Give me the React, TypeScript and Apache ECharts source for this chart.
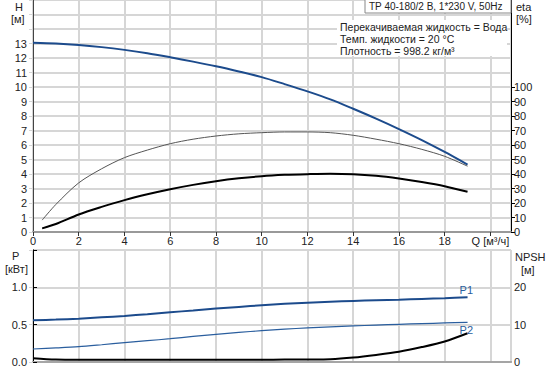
import React, { useEffect, useRef } from "react";
import * as echarts from "echarts";

// Head curve H [м] vs Q [м³/ч]
const qMain = [0, 1, 2, 3, 4, 5, 6, 7, 8, 9, 10, 11, 12, 13, 14, 15, 16, 17, 18, 19];
const headH = [13.05, 13.0, 12.9, 12.75, 12.56, 12.33, 12.05, 11.75, 11.43, 11.07, 10.68, 10.2, 9.7, 9.15, 8.5, 7.82, 7.1, 6.34, 5.52, 4.65];

// Efficiency curves eta [%]
const qEta = [0.4, 1, 2, 3, 4, 5, 6, 7, 8, 9, 10, 11, 12, 13, 14, 15, 16, 17, 18, 19];
const etaThin = [8.2, 19, 33.9, 43.6, 51.3, 56.5, 60.9, 64, 66.2, 67.7, 68.5, 69, 69, 68.5, 66.7, 64, 60.9, 57, 52.2, 45.4];
const etaThick = [2.5, 5.5, 12.1, 17.3, 22, 26, 29.5, 32.5, 35, 37, 38.5, 39.4, 39.9, 40.2, 39.9, 38.8, 36.9, 34.5, 31.6, 27.7];

// Power P1, P2 [кВт]
const powerP1 = [0.558, 0.568, 0.58, 0.598, 0.617, 0.641, 0.666, 0.69, 0.715, 0.738, 0.76, 0.779, 0.795, 0.807, 0.818, 0.827, 0.835, 0.845, 0.854, 0.867];
const powerP2 = [0.174, 0.188, 0.205, 0.231, 0.259, 0.285, 0.312, 0.342, 0.371, 0.396, 0.42, 0.44, 0.456, 0.47, 0.483, 0.494, 0.505, 0.514, 0.523, 0.532];

// NPSH [м]
const npsh = [1.0, 0.65, 0.6, 0.6, 0.6, 0.6, 0.6, 0.6, 0.6, 0.6, 0.62, 0.64, 0.67, 0.75, 1.2, 1.9, 2.75, 4.0, 5.5, 7.7];

// Axis tick values
const hLabelMax = 13;
const etaTicks = [0, 10, 20, 30, 40, 50, 60, 70, 80, 90, 100];
const pLabels = [0, 0.5, 1.0];
const npshLabels = [0, 10, 20];

const titleText = "TP 40-180/2 B, 1*230 V, 50Hz";
const infoLines = [
  "Перекачиваемая жидкость = Вода",
  "Темп. жидкости = 20 °C",
  "Плотность = 998.2 кг/м³",
];

const zip = (xs: number[], ys: number[]) => xs.map((x, i) => [x, ys[i]]);

const FONT = "Liberation Sans, Arial, sans-serif";
const GRID_COLOR = "#d6d6d6";
const TXT = "#222";

export default function App() {
  const ref = useRef<HTMLDivElement>(null);
  useEffect(() => {
    document.body.style.margin = "0";
    if (!ref.current) return;
    const chart = echarts.init(ref.current, null, { renderer: "svg" });
    const splitLine = { show: true, lineStyle: { color: GRID_COLOR, width: 2 } };
    const label = { fontSize: 11, color: TXT, fontFamily: FONT };
    const xCommon = { type: "value", min: 0, max: 20.9, interval: 2 };
    const curve = { smooth: 0.3, showSymbol: false };
    const option: any = {
      animation: false,
      textStyle: { fontFamily: FONT },
      grid: [
        { left: 33, right: 39, top: 0, height: 232 },
        { left: 33, right: 39, top: 250, height: 112 },
      ],
      xAxis: [
        {
          ...xCommon,
          gridIndex: 0,
          axisLine: { show: true, lineStyle: { color: "#999", width: 2 } },
          axisTick: { show: true, length: 4, lineStyle: { color: "#333" } },
          axisLabel: {
            ...label,
            margin: 3,
            showMaxLabel: false,
            formatter: (v: number) => (v === 20 ? "Q [м³/ч]" : v % 2 === 0 ? String(v) : ""),
          },
          splitLine,
        },
        {
          ...xCommon,
          gridIndex: 1,
          axisLine: { show: true, lineStyle: { color: "#999", width: 2 } },
          axisTick: { show: false },
          axisLabel: { show: false },
          splitLine,
        },
        {
          ...xCommon,
          gridIndex: 1,
          position: "top",
          axisLine: { show: true, lineStyle: { color: "#aaa", width: 1.5 } },
          axisTick: { show: false },
          axisLabel: { show: false },
          splitLine: { show: false },
        },
      ],
      yAxis: [
        {
          type: "value",
          gridIndex: 0,
          min: 0,
          max: 16,
          interval: 1,
          axisLine: { show: true, lineStyle: { color: "#444", width: 1 } },
          axisTick: { show: true, length: 4, lineStyle: { color: GRID_COLOR } },
          axisLabel: { ...label, margin: 6, formatter: (v: number) => (v <= hLabelMax ? String(v) : "") },
          splitLine,
        },
        {
          type: "value",
          gridIndex: 0,
          position: "right",
          min: 0,
          max: 160,
          interval: 10,
          axisLine: { show: true, lineStyle: { color: "#000", width: 1 } },
          axisTick: { show: true, length: 4, lineStyle: { color: "#000" }, customValues: etaTicks },
          axisLabel: { ...label, margin: 3, customValues: etaTicks },
          splitLine: { show: false },
        },
        {
          type: "value",
          gridIndex: 1,
          min: 0,
          max: 1.5,
          interval: 0.5,
          axisLine: { show: true, lineStyle: { color: "#555", width: 1 } },
          axisTick: { show: true, length: 4, lineStyle: { color: GRID_COLOR } },
          axisLabel: {
            ...label,
            margin: 6,
            formatter: (v: number) => (pLabels.includes(v) ? v.toFixed(1) : ""),
          },
          splitLine,
        },
        {
          type: "value",
          gridIndex: 1,
          position: "right",
          min: 0,
          max: 30,
          interval: 10,
          axisLine: { show: true, lineStyle: { color: "#000", width: 1 } },
          axisTick: { show: true, length: 4, lineStyle: { color: "#000" } },
          axisLabel: {
            ...label,
            margin: 3,
            formatter: (v: number) => (npshLabels.includes(v) ? String(v) : ""),
          },
          splitLine: { show: false },
        },
      ],
      series: [
        {
          type: "line",
          xAxisIndex: 0,
          yAxisIndex: 0,
          data: zip(qMain, headH),
          ...curve,
          lineStyle: { color: "#1c4b8c", width: 2 },
        },
        {
          type: "line",
          xAxisIndex: 0,
          yAxisIndex: 1,
          data: zip(qEta, etaThin),
          ...curve,
          lineStyle: { color: "#555", width: 1 },
        },
        {
          type: "line",
          xAxisIndex: 0,
          yAxisIndex: 1,
          data: zip(qEta, etaThick),
          ...curve,
          lineStyle: { color: "#000", width: 2 },
        },
        {
          type: "line",
          xAxisIndex: 1,
          yAxisIndex: 2,
          data: zip(qMain, powerP1),
          ...curve,
          lineStyle: { color: "#1c4b8c", width: 2 },
          endLabel: {
            show: true,
            formatter: "P1",
            color: "#2a5e9e",
            fontSize: 11,
            fontFamily: FONT,
            offset: [-16, -7],
          },
        },
        {
          type: "line",
          xAxisIndex: 1,
          yAxisIndex: 2,
          data: zip(qMain, powerP2),
          ...curve,
          lineStyle: { color: "#2a5e9e", width: 1.2 },
          endLabel: {
            show: true,
            formatter: "P2",
            color: "#2a5e9e",
            fontSize: 11,
            fontFamily: FONT,
            offset: [-16, 8],
          },
        },
        {
          type: "line",
          xAxisIndex: 1,
          yAxisIndex: 3,
          data: zip(qMain, npsh),
          ...curve,
          lineStyle: { color: "#000", width: 2 },
        },
      ],
      graphic: [
        { type: "text", left: 15, top: 1, style: { text: "H", fontSize: 11, fill: TXT, fontFamily: FONT } },
        { type: "text", left: 11, top: 13, style: { text: "[м]", fontSize: 11, fill: TXT, fontFamily: FONT } },
        { type: "text", left: 516, top: 1, style: { text: "eta", fontSize: 11, fill: TXT, fontFamily: FONT } },
        { type: "text", left: 516, top: 13, style: { text: "[%]", fontSize: 11, fill: TXT, fontFamily: FONT } },
        { type: "text", left: 12, top: 250, style: { text: "P", fontSize: 11, fill: TXT, fontFamily: FONT } },
        { type: "text", left: 5, top: 263, style: { text: "[кВт]", fontSize: 11, fill: TXT, fontFamily: FONT } },
        { type: "text", left: 515, top: 251, style: { text: "NPSH", fontSize: 11, fill: TXT, fontFamily: FONT } },
        { type: "text", left: 521, top: 264, style: { text: "[м]", fontSize: 11, fill: TXT, fontFamily: FONT } },
        {
          type: "rect",
          shape: { x: 365, y: -1, width: 146, height: 14 },
          style: { fill: "#fff", stroke: "#888", lineWidth: 1 },
          z: 10,
        },
        {
          type: "text",
          x: 369,
          y: 6.5,
          z: 11,
          style: { text: titleText, fontSize: 10, fill: TXT, fontFamily: FONT, verticalAlign: "middle" },
        },
        {
          type: "rect",
          shape: { x: 337, y: 20, width: 170, height: 36 },
          style: { fill: "#fff" },
          z: 10,
        },
        ...infoLines.map((t, i) => ({
          type: "text",
          x: 340,
          y: 27 + i * 12,
          z: 11,
          style: { text: t, fontSize: 10.5, fill: TXT, fontFamily: FONT, verticalAlign: "middle" },
        })),
      ],
    };
    chart.setOption(option);
    return () => chart.dispose();
  }, []);
  return <div ref={ref} style={{ width: 550, height: 371 }} />;
}
